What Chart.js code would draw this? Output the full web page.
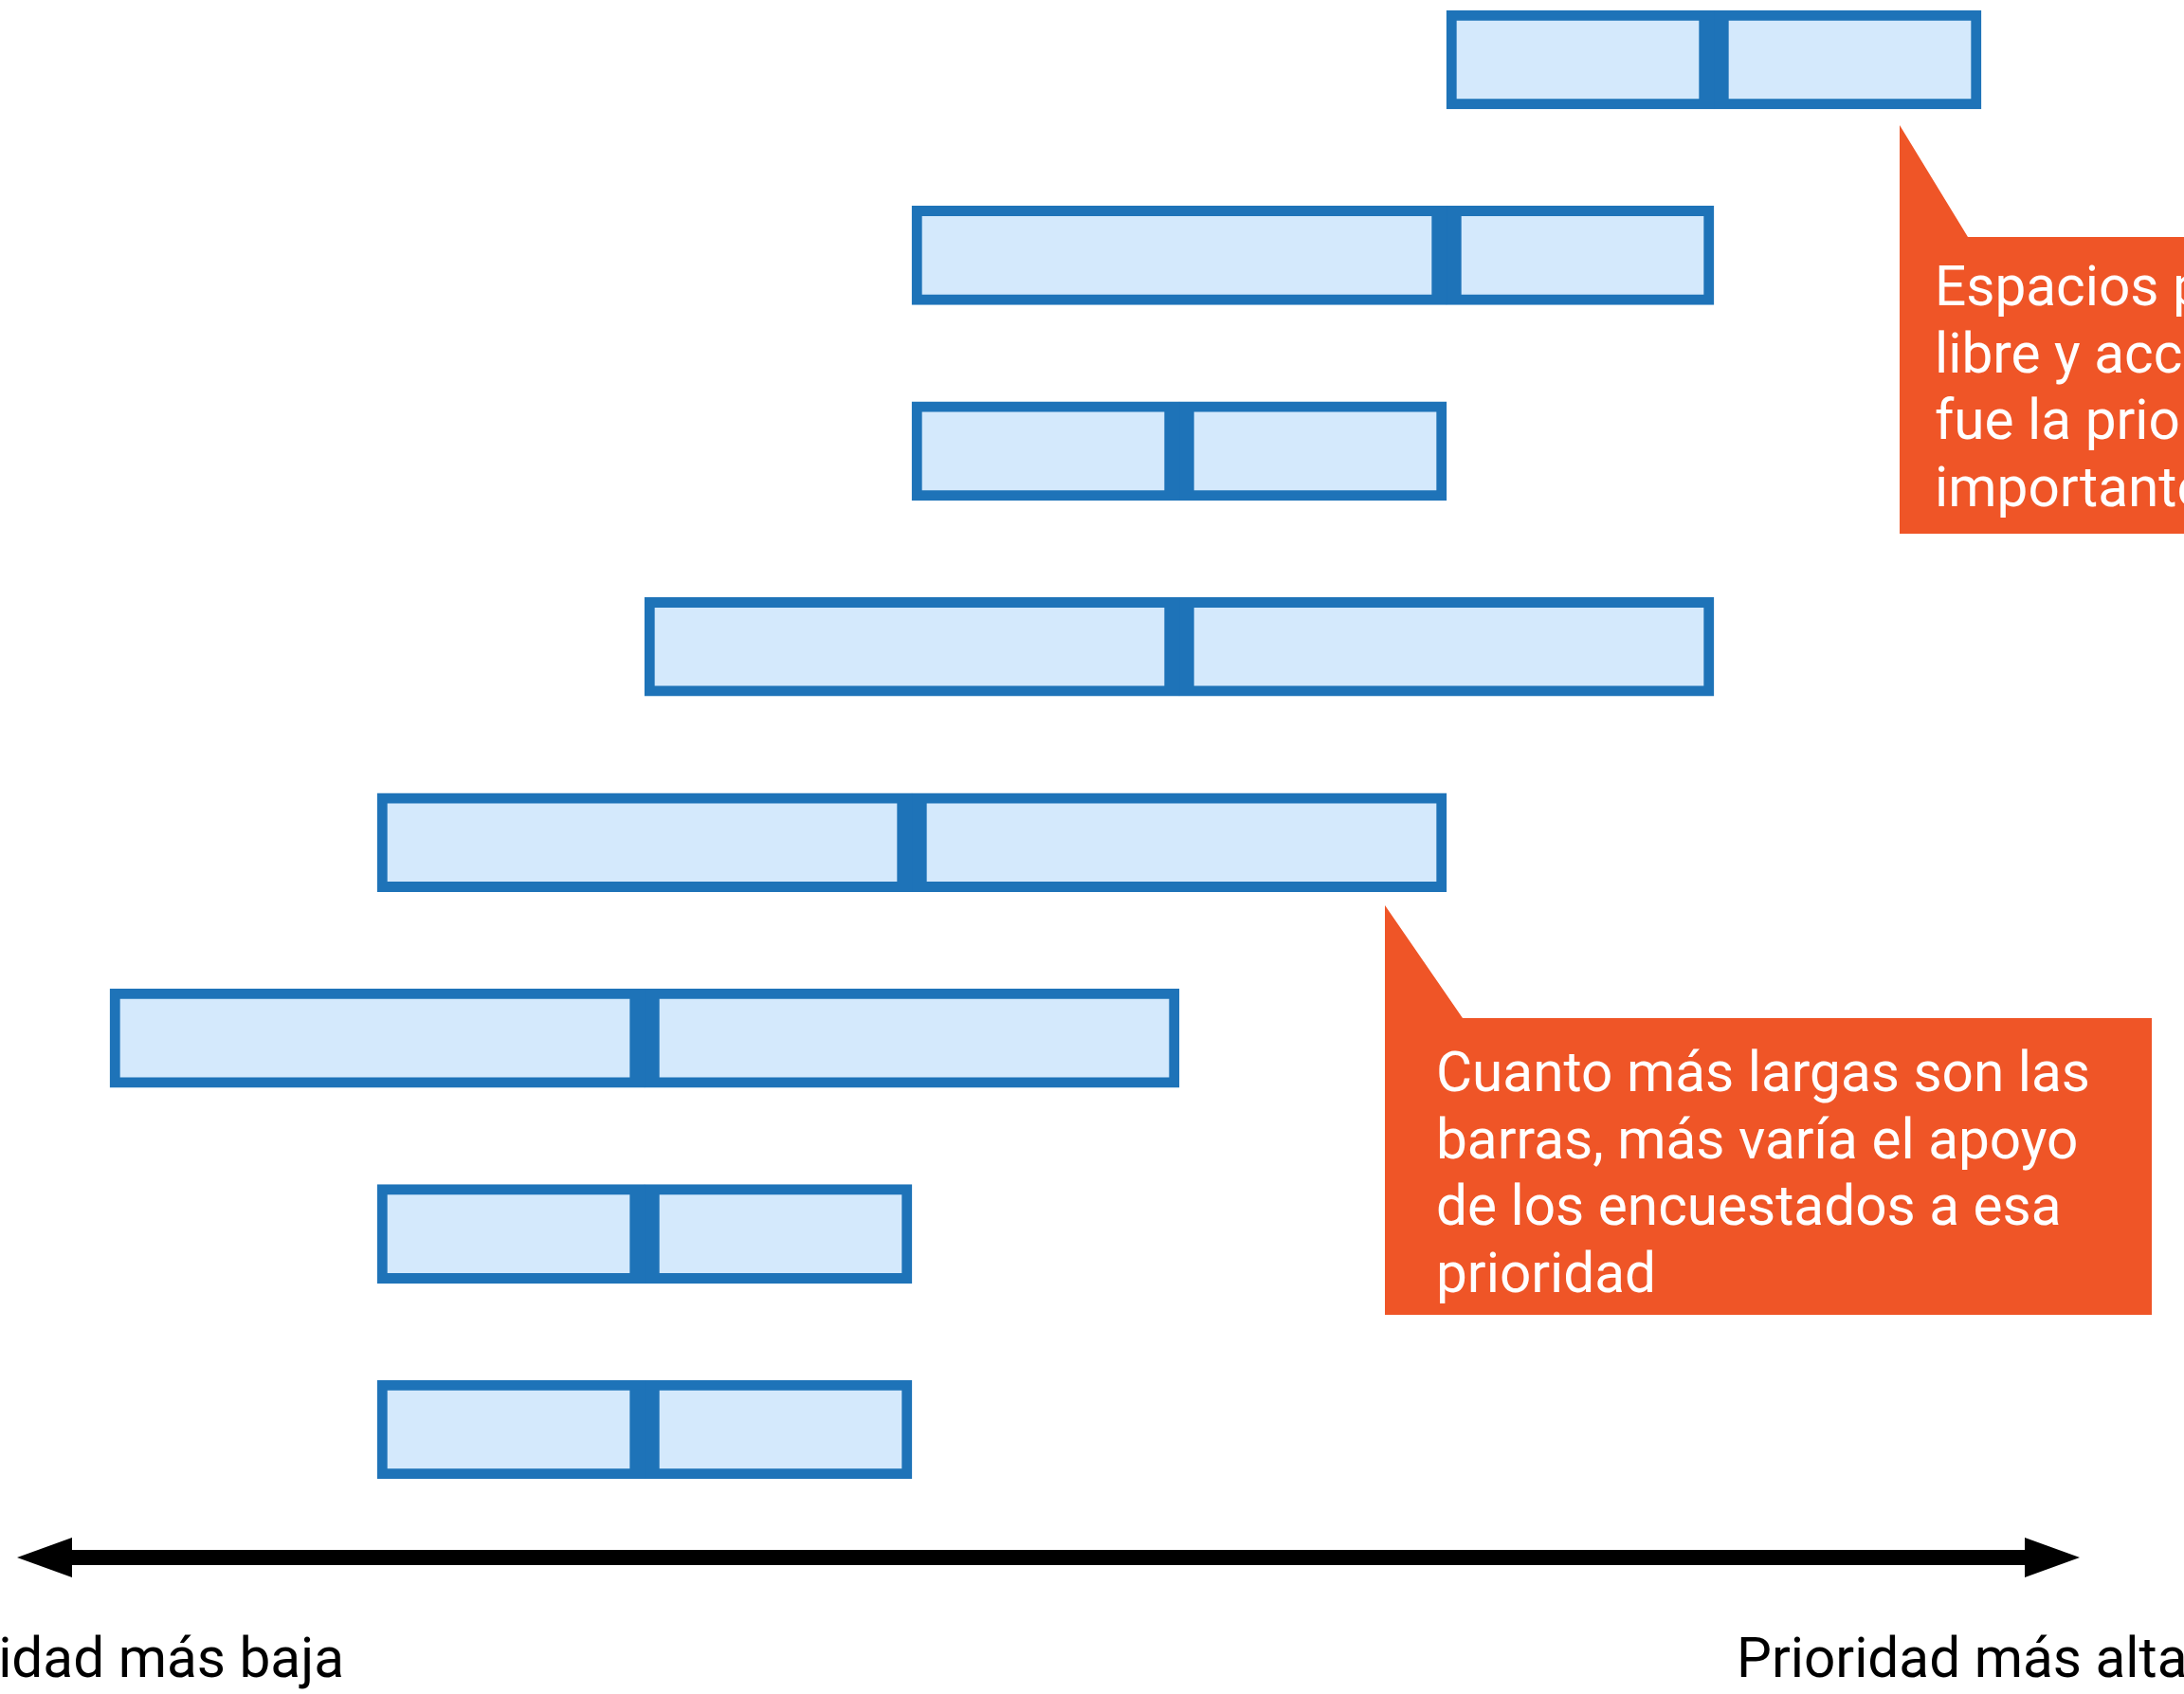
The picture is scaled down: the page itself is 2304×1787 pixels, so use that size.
<!DOCTYPE html>
<html>
<head>
<meta charset="utf-8">
<script src="https://cdn.jsdelivr.net/npm/chart.js@4.4.1/dist/chart.umd.min.js"></script>
<style>
html,body{margin:0;padding:0;background:#ffffff;overflow:hidden}
canvas{display:block}
</style>
</head>
<body>
<canvas id="c" width="2304" height="1787" style="width:2304px;height:1787px"></canvas>
<script>
// ---- data (priority rank scale: 1 = lowest, 8 = highest) ----
const priorities   = ['P1', 'P2', 'P3', 'P4', 'P5', 'P6', 'P7', 'P8'];
const lowValues    = [6, 4, 4, 3, 2, 1, 2, 2];
const medianValues = [7, 6, 5, 5, 4, 3, 3, 3];
const highValues   = [8, 7, 6, 7, 6, 5, 4, 4];
const scaleRange   = [1, 8];
const axisEndLabels = ['Prioridad más baja', 'Prioridad más alta'];
const calloutTopLines = ['Espacios para el juego', 'libre y accesibles', 'fue la prioridad más', 'importante'];
const calloutBottomLines = ['Cuanto más largas son las', 'barras, más varía el apoyo', 'de los encuestados a esa', 'prioridad'];

// ---- styles ----
const BLUE = '#1E73B8';
const FILL = '#D4E9FC';
const ORANGE = '#EF5527';
const FONT = '58.5px Roboto';

const decorations = {
  id: 'decorations',
  afterDraw(chart) {
    const ctx = chart.ctx;
    const {left, right} = chart.chartArea;
    ctx.save();
    // double-headed arrow
    const ay = 1643, shaft = 16, headL = 58, headH = 21;
    const xl = left - 98, xr = right + 104;
    ctx.fillStyle = '#000';
    ctx.fillRect(xl + headL - 2, ay - shaft / 2, (xr - xl) - 2 * headL + 4, shaft);
    ctx.beginPath();
    ctx.moveTo(xl, ay); ctx.lineTo(xl + headL, ay - headH); ctx.lineTo(xl + headL, ay + headH); ctx.closePath();
    ctx.fill();
    ctx.beginPath();
    ctx.moveTo(xr, ay); ctx.lineTo(xr - headL, ay - headH); ctx.lineTo(xr - headL, ay + headH); ctx.closePath();
    ctx.fill();

    // end labels
    ctx.font = FONT;
    ctx.textBaseline = 'alphabetic';
    ctx.fillStyle = '#000';
    ctx.textAlign = 'right';
    ctx.fillText(axisEndLabels[0], 363, 1769);
    ctx.textAlign = 'left';
    ctx.fillText(axisEndLabels[1], 1832, 1769);

    // callouts
    function callout(x, y, w, h, tipY, baseW, lines, tx, ty) {
      ctx.fillStyle = ORANGE;
      ctx.beginPath();
      ctx.moveTo(x, tipY);
      ctx.lineTo(x + baseW, y);
      ctx.lineTo(x + w, y);
      ctx.lineTo(x + w, y + h);
      ctx.lineTo(x, y + h);
      ctx.closePath();
      ctx.fill();
      ctx.fillStyle = '#ffffff';
      ctx.textAlign = 'left';
      lines.forEach((t, i) => ctx.fillText(t, tx, ty + i * 70.5));
    }
    callout(2004, 250, 400, 313, 132, 72, calloutTopLines, 2041, 322);
    callout(1461, 1074, 809, 313, 955, 82, calloutBottomLines, 1515, 1151);
    ctx.restore();
  }
};

function build() {
  const common = {
    backgroundColor: FILL,
    borderColor: BLUE,
    borderSkipped: false,
    grouped: false,
    barThickness: 104,
    clip: false
  };
  new Chart(document.getElementById('c'), {
    type: 'bar',
    data: {
      labels: priorities,
      datasets: [
        Object.assign({
          label: 'inferior',
          data: priorities.map((_, i) => [lowValues[i], medianValues[i]]),
          borderWidth: {top: 11, bottom: 11, left: 11, right: 16}
        }, common),
        Object.assign({
          label: 'superior',
          data: priorities.map((_, i) => [medianValues[i], highValues[i]]),
          borderWidth: {top: 11, bottom: 11, left: 16, right: 11}
        }, common)
      ]
    },
    options: {
      indexAxis: 'y',
      responsive: false,
      animation: false,
      devicePixelRatio: 1,
      layout: {padding: {left: 116, right: 214, top: 63, bottom: 279}},
      scales: {
        x: {type: 'linear', min: scaleRange[0], max: scaleRange[1], display: false},
        y: {type: 'category', offset: false, display: false}
      },
      plugins: {legend: {display: false}, tooltip: {enabled: false}}
    },
    plugins: [decorations]
  });
}

const fontReady = document.fonts && document.fonts.load ? document.fonts.load(FONT) : Promise.resolve();
Promise.race([fontReady, new Promise(r => setTimeout(r, 1500))]).then(build, build);
</script>
</body>
</html>
